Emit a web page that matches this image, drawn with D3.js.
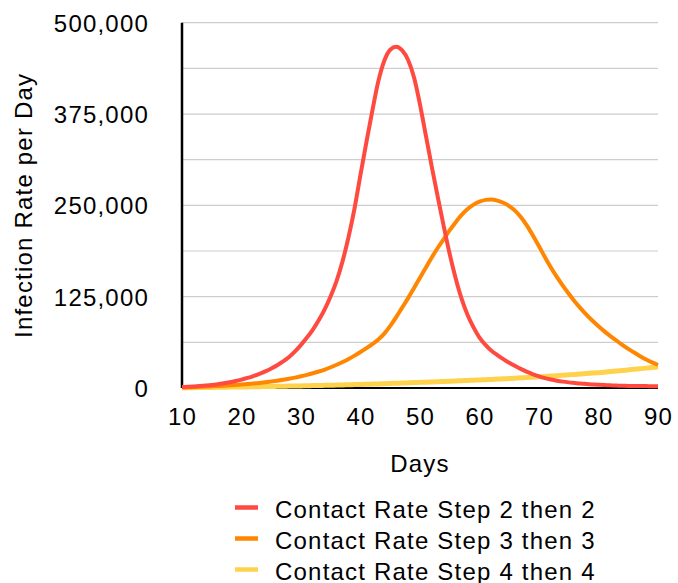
<!DOCTYPE html>
<html>
<head>
<meta charset="utf-8">
<script src="https://cdn.jsdelivr.net/npm/d3@7"></script>
<style>
  body { margin: 0; background: #fff; }
  text { font-family: "Liberation Sans", Arial, sans-serif; font-size: 24px; fill: #000; letter-spacing: 1.2px; }
</style>
</head>
<body>
<div id="chart"></div>
<script>
// values, in thousands of infections per day
const days = d3.range(10, 91);

const step2 = [1.2, 1.6, 2.1, 2.7, 3.4, 4.2, 5.2, 6.4, 7.8, 9.5,
  11.5, 13.8, 16.4, 19.4, 22.8, 26.7, 31.2, 36.4, 42.4, 50,
  59, 69, 80, 93, 108, 126, 147, 174, 207, 246,
  292, 337, 380, 420, 448, 463, 467, 462, 449, 425,
  388, 345, 302, 261, 221, 183, 150, 122, 100, 83,
  69, 59, 51, 45, 39.5, 34.5, 30, 25.8, 22, 18.8,
  16, 13.6, 11.6, 10, 8.7, 7.7, 6.9, 6.1, 5.5, 4.9,
  4.4, 4.0, 3.6, 3.3, 3.1, 2.9, 2.8, 2.7, 2.6, 2.5, 2.4];

const step3 = [0.7, 1, 1.3, 1.6, 2, 2.4, 2.8, 3.2, 3.7, 4.2,
  4.8, 5.5, 6.2, 7, 7.9, 8.9, 10, 11.2, 12.6, 14.2,
  16, 18, 20.2, 22.6, 25.3, 28.4, 31.8, 35.5, 39.7, 44.3,
  49.3, 54.5, 60, 66.5, 74.5, 85, 97, 110, 123, 137,
  151, 165, 179, 192, 204, 216, 227, 237, 245, 251,
  255, 257.5, 258, 256.5, 253.5, 249, 242.5, 233.5, 222, 208.5,
  194, 179, 165, 152, 140, 129, 118.5, 109, 100, 92,
  84.5, 77.5, 71, 65, 59, 53.5, 48.5, 43.5, 39, 35, 31.5];

const step4 = [0.3, 0.4, 0.5, 0.6, 0.7, 0.8, 0.9, 1.0, 1.2, 1.3,
  1.4, 1.5, 1.7, 1.8, 2.0, 2.1, 2.3, 2.4, 2.6, 2.7,
  2.9, 3.1, 3.3, 3.4, 3.6, 3.8, 4.0, 4.2, 4.4, 4.7,
  4.9, 5.1, 5.4, 5.6, 5.9, 6.2, 6.5, 6.8, 7.1, 7.4,
  7.7, 8.0, 8.3, 8.6, 9.0, 9.3, 9.6, 10.0, 10.3, 10.7,
  11.0, 11.4, 11.8, 12.2, 12.6, 13.0, 13.4, 13.9, 14.3, 14.8,
  15.3, 15.8, 16.3, 16.9, 17.4, 18.0, 18.6, 19.2, 19.8, 20.4,
  21.0, 21.7, 22.5, 23.2, 24.0, 24.8, 25.6, 26.4, 27.2, 28.1, 29.0];

const seriesNames = ["Contact Rate Step 2 then 2", "Contact Rate Step 3 then 3", "Contact Rate Step 4 then 4"];
const seriesColors = ["#ff4a40", "#ff8600", "#ffd24d"];
const xTicks = [10, 20, 30, 40, 50, 60, 70, 80, 90];
const yTicks = [0, 125000, 250000, 375000, 500000];
const yGrid = d3.range(0, 500001, 62500);

const margin = {top: 22.7, right: 20, bottom: 195, left: 182},
  width = 658 - 182,
  height = 388 - 22.7;

const x = d3.scaleLinear().domain([10, 90]).range([0, width]),
  y = d3.scaleLinear().domain([0, 500000]).range([height, 0]);

const svg = d3.select("#chart")
  .append("svg")
  .attr("width", 678)
  .attr("height", 583)
  .append("g")
  .attr("transform", "translate(" + margin.left + "," + margin.top + ")");

// grid
svg.selectAll(".grid")
  .data(yGrid)
  .enter()
  .append("line")
  .attr("class", "grid")
  .attr("x1", 0)
  .attr("x2", width)
  .attr("y1", d => y(d))
  .attr("y2", d => y(d))
  .attr("stroke", "#cdcdcd")
  .attr("stroke-width", 1.2);

// axes
const yAxis = d3.axisLeft(y).tickValues(yTicks).tickFormat(d3.format(",")).tickSize(0).tickPadding(33);
const xAxis = d3.axisBottom(x).tickValues(xTicks).tickFormat(d3.format("d")).tickSize(0).tickPadding(20);

svg.append("g")
  .attr("class", "y axis")
  .call(yAxis)
  .call(g => g.select(".domain").remove())
  .selectAll("text")
  .attr("font-size", null)
  .attr("font-family", null)
  .attr("dy", "0.36em");

svg.append("g")
  .attr("class", "x axis")
  .attr("transform", "translate(0," + height + ")")
  .call(xAxis)
  .call(g => g.select(".domain").remove())
  .selectAll("text")
  .attr("font-size", null)
  .attr("font-family", null)
  .attr("dy", "0.71em");

svg.selectAll(".axis text").style("fill", "#000");

svg.append("line")
  .attr("x1", 0).attr("x2", 0)
  .attr("y1", 0).attr("y2", height)
  .attr("stroke", "#000").attr("stroke-width", 2.5);

svg.append("line")
  .attr("x1", 0).attr("x2", width)
  .attr("y1", height).attr("y2", height)
  .attr("stroke", "#000").attr("stroke-width", 2);

// lines
const line = d3.line()
  .x((d, i) => x(days[i]))
  .y(d => y(d * 1000))
  .curve(d3.curveMonotoneX);

const allSeries = [step2, step3, step4];

svg.selectAll(".series")
  .data([2, 1, 0])
  .enter()
  .append("path")
  .attr("class", "series")
  .attr("d", i => line(allSeries[i]))
  .attr("fill", "none")
  .attr("stroke", i => seriesColors[i])
  .attr("stroke-width", i => i == 2 ? 5 : 4)
  .attr("stroke-linejoin", "round");

// axis titles
svg.append("text")
  .attr("x", width / 2)
  .attr("y", 472 - margin.top)
  .style("text-anchor", "middle")
  .text("Days");

svg.append("text")
  .attr("transform", "rotate(-90)")
  .attr("x", 0 - height / 2)
  .attr("y", 32 - margin.left)
  .style("text-anchor", "middle")
  .text("Infection Rate per Day");

// legend
const legend = svg.selectAll(".legend")
  .data(seriesNames)
  .enter()
  .append("g")
  .attr("class", "legend")
  .attr("transform", (d, i) => "translate(0," + (517.5 + i * 31 - margin.top) + ")");

legend.append("line")
  .attr("x1", 235 - margin.left)
  .attr("x2", 258 - margin.left)
  .attr("y1", -10)
  .attr("y2", -10)
  .attr("stroke", (d, i) => seriesColors[i])
  .attr("stroke-width", 4.5);

legend.append("text")
  .attr("x", 275 - margin.left)
  .attr("y", 0)
  .text(d => d);
</script>
</body>
</html>
